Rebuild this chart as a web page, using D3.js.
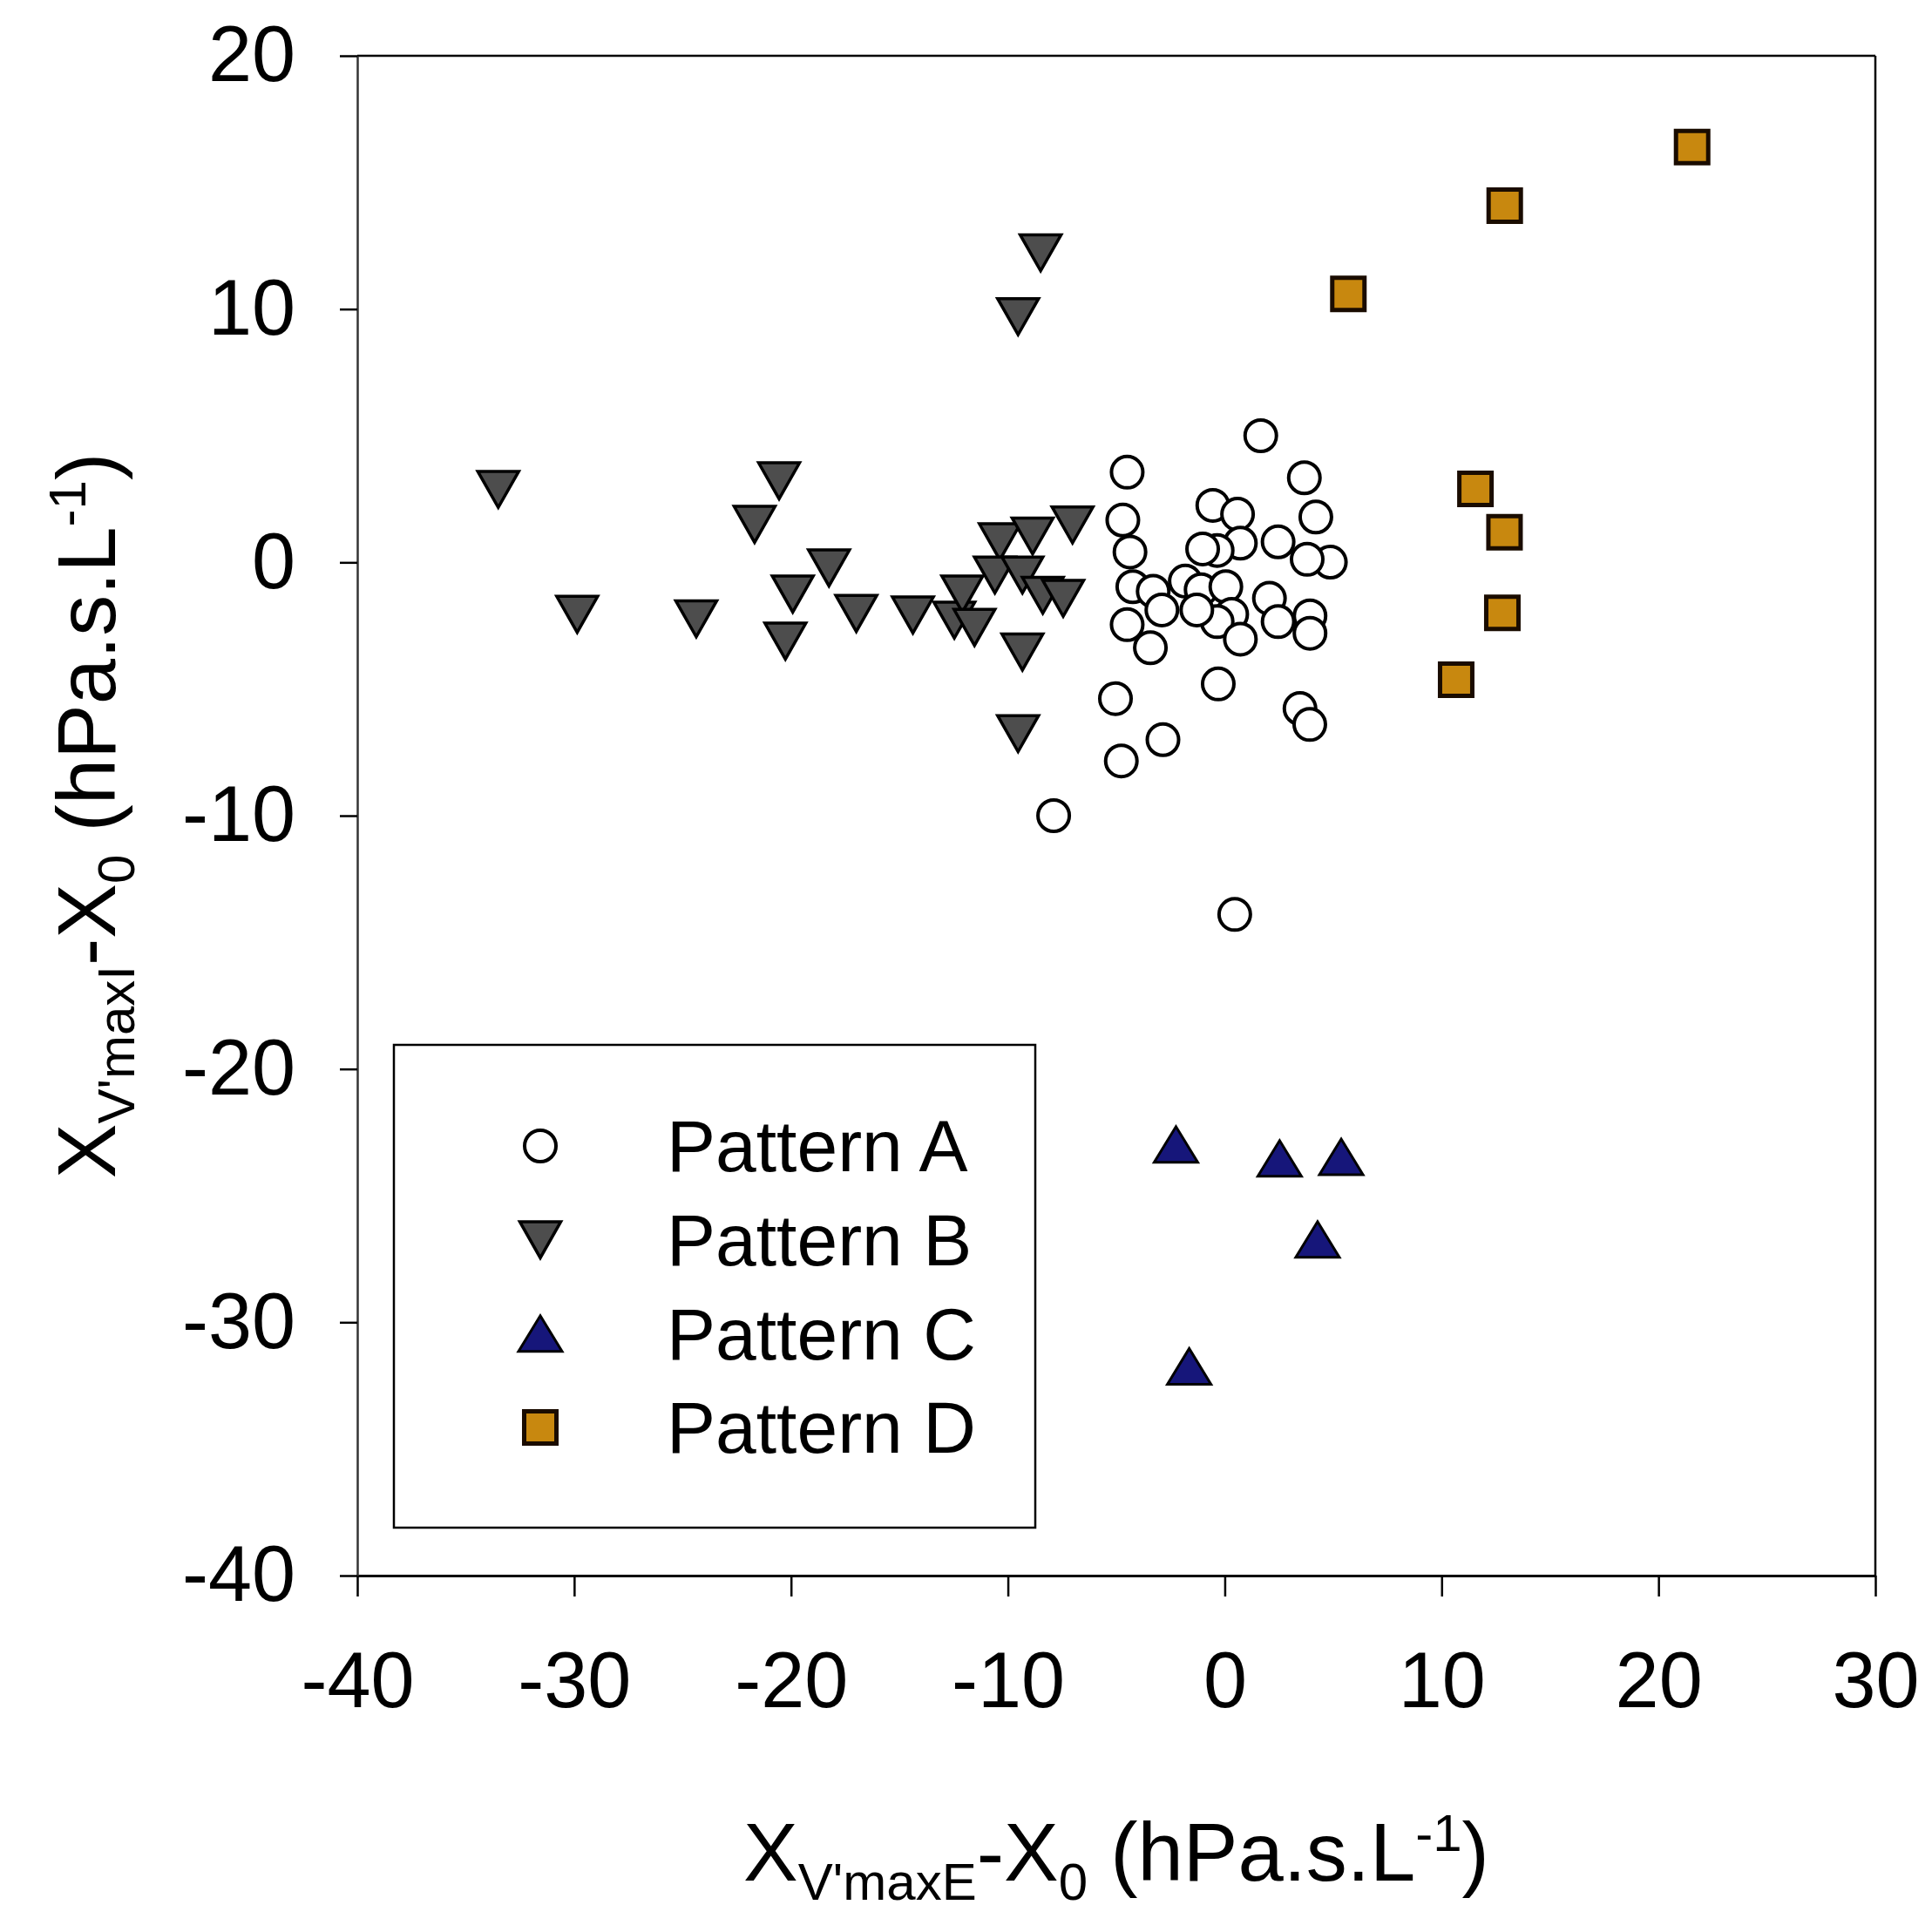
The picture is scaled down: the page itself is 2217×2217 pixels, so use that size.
<!DOCTYPE html>
<html>
<head>
<meta charset="utf-8">
<script src="https://cdn.jsdelivr.net/npm/d3@7"></script>
<style>
  body { margin: 0; background: #fff; }
  text { font-family: "Liberation Sans", Arial, sans-serif; fill: #000; }
</style>
</head>
<body>
<script>
// values: [XV'maxE - X0, XV'maxI - X0]
var patternA = [
  [1.66, 5.0], [-4.5, 3.56], [3.67, 3.34], [-0.55, 2.25], [0.59, 1.9], [4.2, 1.79],
  [-4.7, 1.67], [-4.37, 0.41], [2.46, 0.81], [0.72, 0.76], [-0.35, 0.47], [-1.02, 0.53],
  [4.87, 0.01], [3.8, 0.12], [-4.24, -0.96], [-3.3, -1.14], [-2.9, -1.88], [-1.82, -0.74],
  [-1.09, -1.08], [0.05, -0.96], [0.32, -2.05], [-0.35, -2.34], [-1.29, -1.88], [2.06, -1.42],
  [0.72, -3.03], [2.46, -2.34], [3.93, -2.11], [3.93, -2.8], [-4.5, -2.46], [-3.43, -3.37],
  [-0.3, -4.8], [-5.04, -5.38], [-4.77, -7.84], [-2.85, -7.0], [-7.89, -10.0], [0.46, -13.9],
  [3.47, -5.77], [3.92, -6.4]
];
var patternB = [
  [-33.5, 2.88], [-29.86, -2.05], [-24.37, -2.23], [-20.55, 3.22], [-21.68, 1.5], [-18.25, -0.22],
  [-19.92, -1.25], [-20.26, -3.11], [-16.99, -2.02], [-14.38, -2.08], [-12.47, -2.28], [-12.1, -1.25],
  [-11.54, -2.57], [-10.37, 0.81], [-10.6, -0.5], [-9.33, -0.5], [-8.86, 1.04], [-7.02, 1.48],
  [-8.39, -1.3], [-7.45, -1.42], [-9.33, -3.54], [-9.53, -6.76], [-8.49, 12.22], [-9.53, 9.7]
];
var patternC = [
  [-2.25, -22.98], [2.53, -23.53], [5.37, -23.47], [4.28, -26.73], [-1.64, -31.74]
];
var patternD = [
  [21.55, 16.4], [12.91, 14.08], [5.7, 10.6], [11.56, 2.9], [12.9, 1.19], [12.8, -1.99], [10.67, -4.63]
];
var seriesNames = ["Pattern A", "Pattern B", "Pattern C", "Pattern D"];
var xTicks = [-40, -30, -20, -10, 0, 10, 20, 30];
var yTicks = [-40, -30, -20, -10, 0, 10, 20];

var W = 2217, H = 2217;
var margin = {left: 410, right: 65, top: 64, bottom: 409};

var svg = d3.select("body").append("svg")
  .attr("width", W)
  .attr("height", H);

var xScale = d3.scaleLinear().domain([-40, 30]).range([margin.left, W - margin.right]);
var yScale = d3.scaleLinear().domain([-40, 20]).range([H - margin.bottom, margin.top]);

// marker shapes, sized by outer width in px
var shapes = {
  circle: { draw: function(ctx, size) { var r = Math.sqrt(size) / 2; ctx.moveTo(r, 0); ctx.arc(0, 0, r, 0, 2 * Math.PI); } },
  triDown: { draw: function(ctx, size) {
    var w = Math.sqrt(size), h = w * 0.88;
    ctx.moveTo(-w / 2, -h / 2); ctx.lineTo(w / 2, -h / 2); ctx.lineTo(0, h / 2); ctx.closePath(); } },
  triUp: { draw: function(ctx, size) {
    var w = Math.sqrt(size), h = w * 0.82;
    ctx.moveTo(-w / 2, h / 2); ctx.lineTo(w / 2, h / 2); ctx.lineTo(0, -h / 2); ctx.closePath(); } },
  square: { draw: function(ctx, size) { var s = Math.sqrt(size) / 2; ctx.rect(-s, -s, 2 * s, 2 * s); } }
};

var series = [
  {name: seriesNames[0], data: patternA, shape: shapes.circle, w: 36, fill: "#ffffff", stroke: "#000", sw: 4},
  {name: seriesNames[1], data: patternB, shape: shapes.triDown, w: 47, fill: "#4d4d4d", stroke: "#000", sw: 3.5},
  {name: seriesNames[2], data: patternC, shape: shapes.triUp, w: 50, fill: "#16167a", stroke: "#000", sw: 3},
  {name: seriesNames[3], data: patternD, shape: shapes.square, w: 37, fill: "#c8880f", stroke: "#1a0c00", sw: 5}
];

// frame lines top and right
svg.append("line")
  .attr("x1", xScale(-40)).attr("x2", xScale(30))
  .attr("y1", yScale(20)).attr("y2", yScale(20))
  .attr("stroke", "#000").attr("stroke-width", 2.5);
svg.append("line")
  .attr("x1", xScale(30)).attr("x2", xScale(30))
  .attr("y1", yScale(20)).attr("y2", yScale(-40))
  .attr("stroke", "#000").attr("stroke-width", 2.5);

// axes, plain hyphen for negatives like the original
var fmt = function(d) { return String(d); };
var gx = svg.append("g")
  .attr("transform", "translate(0," + yScale(-40) + ")")
  .call(d3.axisBottom(xScale).tickValues(xTicks).tickFormat(fmt).tickSize(24).tickSizeOuter(0).tickPadding(63));
var gy = svg.append("g")
  .attr("transform", "translate(" + xScale(-40) + ",0)")
  .call(d3.axisLeft(yScale).tickValues(yTicks).tickFormat(fmt).tickSize(20).tickSizeOuter(0).tickPadding(51));

gx.select(".domain").attr("stroke", "#000").attr("stroke-width", 3);
gy.select(".domain").attr("stroke", "#333").attr("stroke-width", 2.5);
svg.selectAll(".tick line").attr("stroke", "#000").attr("stroke-width", 2.5);
svg.selectAll(".tick text")
  .attr("font-size", 90)
  .attr("font-family", "Liberation Sans, Arial, sans-serif")
  .attr("fill", "#000");

// legend box
var legend = svg.append("g");
legend.append("rect")
  .attr("x", 452).attr("y", 1199)
  .attr("width", 736).attr("height", 554)
  .attr("fill", "#fff").attr("stroke", "#000").attr("stroke-width", 2.5);

var legendY = d3.scalePoint().domain(seriesNames).range([1315, 1638]);

// points
series.forEach(function(s) {
  svg.append("g").selectAll("path")
    .data(s.data)
    .join("path")
    .attr("d", d3.symbol().type(s.shape).size(s.w * s.w))
    .attr("transform", function(d) { return "translate(" + xScale(d[0]) + "," + yScale(d[1]) + ")"; })
    .attr("fill", s.fill)
    .attr("stroke", s.stroke)
    .attr("stroke-width", s.sw)
    .attr("stroke-linejoin", "miter");

  legend.append("path")
    .attr("d", d3.symbol().type(s.shape).size(s.w * s.w))
    .attr("transform", "translate(620," + legendY(s.name) + ")")
    .attr("fill", s.fill)
    .attr("stroke", s.stroke)
    .attr("stroke-width", s.sw);
  legend.append("text")
    .attr("x", 765)
    .attr("y", legendY(s.name))
    .attr("dy", "0.35em")
    .attr("font-size", 84)
    .text(s.name);
});

// axis titles with sub/superscripts
function title(sel, sub1) {
  sel.append("tspan").text("X");
  sel.append("tspan").attr("font-size", 60).attr("dy", 22).text(sub1);
  sel.append("tspan").attr("dy", -22).text("-X");
  sel.append("tspan").attr("font-size", 60).attr("dy", 22).text("0");
  sel.append("tspan").attr("dy", -22).text(" (hPa.s.L");
  sel.append("tspan").attr("font-size", 60).attr("dy", -34).text("-1");
  sel.append("tspan").attr("dy", 34).text(")");
}

var xTitle = svg.append("text")
  .attr("x", (xScale(-40) + xScale(30)) / 2)
  .attr("y", 2158)
  .attr("text-anchor", "middle")
  .attr("font-size", 94);
title(xTitle, "V'maxE");

var yTitle = svg.append("text")
  .attr("transform", "translate(132," + (yScale(20) + yScale(-40)) / 2 + ") rotate(-90)")
  .attr("text-anchor", "middle")
  .attr("font-size", 94);
title(yTitle, "V'maxI");
</script>
</body>
</html>
